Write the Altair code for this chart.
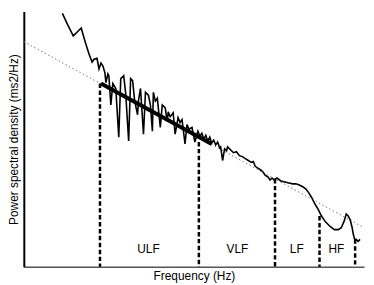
import altair as alt
import pandas as pd

# Spectrum (arbitrary log-frequency units, arbitrary log-power units)
spec_x = [45, 50, 56, 60, 64, 68, 72, 75, 77, 80, 82, 84, 86, 88, 89, 91, 92, 94, 96, 99,
          102, 104, 107, 109, 112, 114, 116, 118, 121, 122, 124, 127, 129, 132, 134, 136, 137, 139, 141, 144,
          146, 149, 151, 152, 154, 157, 159, 162, 164, 166, 169, 171, 173, 176, 179, 182, 184,
          186, 188, 190, 192, 194, 196, 198, 200, 202, 204, 205, 207, 209, 211, 212, 215, 218, 221, 224,
          227, 230, 233, 236, 238, 240, 243, 246, 248, 250, 253, 255, 257, 259, 262, 266, 270, 274, 278,
          281, 284, 288, 291, 294, 297, 300, 303, 307, 311, 316, 320, 324, 327, 330, 332, 334, 336, 338,
          339, 341, 342, 344, 346]
spec_y = [260, 249, 237, 241, 245, 231, 218, 210, 213, 214, 203, 209, 206, 199, 189, 198, 196, 166, 188, 183,
          133, 193, 196, 178, 129, 193, 191, 171, 156, 171, 183, 136, 179, 176, 166, 139, 179, 170, 173, 143,
          166, 163, 149, 159, 154, 158, 136, 153, 148, 151, 126, 146, 141, 143, 128, 139, 134,
          137, 131, 135, 129, 133, 127, 130, 125, 128, 122, 123, 109, 121, 119, 123, 120, 117, 118, 114,
          113, 111, 109, 107, 108, 103, 101, 99, 97, 94, 92, 89, 91, 89, 91, 88, 87, 86, 85,
          85, 84, 82, 80, 76, 71, 65, 60, 52, 46, 41, 38, 38, 40, 47, 54, 52, 48, 40,
          34, 26, 28, 26, 28]

# Regression (dotted) and fitted segment (thick)
reg_x = [6, 350]
reg_y = [231, 40]
fit_x = [84, 196]
fit_y = [188, 126]

# Band boundaries
bound_x = [83, 183, 260, 305, 341]
bound_top = [188, 128, 90, 52, 28]

# Band labels
band_names = ["ULF", "VLF", "LF", "HF"]
band_x = [132, 222, 282, 322]
band_y = [18, 18, 18, 18]

spec = pd.DataFrame({"f": spec_x, "p": spec_y})
reg = pd.DataFrame({"f": reg_x, "p": reg_y})
fit = pd.DataFrame({"f": fit_x, "p": fit_y})
bounds = pd.DataFrame({"f": bound_x, "top": bound_top, "bottom": [0] * len(bound_x)})
bands = pd.DataFrame({"name": band_names, "f": band_x, "p": band_y})

FONT = "Liberation Sans"

xs = alt.Scale(domain=[6, 350], nice=False, zero=False)
ys = alt.Scale(domain=[0, 262], nice=False, zero=False)

x_axis = alt.Axis(title="Frequency (Hz)", labels=False, ticks=False, grid=False,
                  domainColor="#555555", domainWidth=1.5, titleFont=FONT, titleFontSize=12,
                  titleFontWeight="normal", titleColor="#000000", titlePadding=4)
y_axis = alt.Axis(title="Power spectral density (ms2/Hz)", labels=False, ticks=False, grid=False,
                  domainColor="#000000", domainWidth=2, titleFont=FONT, titleFontSize=12,
                  titleFontWeight="normal", titleColor="#000000", titlePadding=3)

reg_line = alt.Chart(reg).mark_line(color="#777777", strokeWidth=1, strokeDash=[1.5, 2.5]).encode(
    x=alt.X("f:Q", scale=xs, axis=x_axis),
    y=alt.Y("p:Q", scale=ys, axis=y_axis),
)

rules = alt.Chart(bounds).mark_rule(color="#000000", strokeWidth=2.5, strokeDash=[4.5, 2.5]).encode(
    x="f:Q", y="top:Q", y2="bottom:Q"
)

curve = alt.Chart(spec).mark_line(color="#000000", strokeWidth=1.6, strokeJoin="miter").encode(
    x="f:Q", y="p:Q", order="f:Q"
)

fit_line = alt.Chart(fit).mark_line(color="#000000", strokeWidth=4).encode(
    x="f:Q", y="p:Q"
)

labels = alt.Chart(bands).mark_text(font=FONT, fontSize=12, color="#000000").encode(
    x="f:Q", y="p:Q", text="name:N"
)

chart = alt.layer(reg_line, rules, curve, fit_line, labels).properties(
    width=344, height=258, padding={"left": 0, "top": 0, "right": 0, "bottom": 0}
).configure_view(stroke=None)

chart.save("out.html", embed_options={"renderer": "svg", "actions": False})
